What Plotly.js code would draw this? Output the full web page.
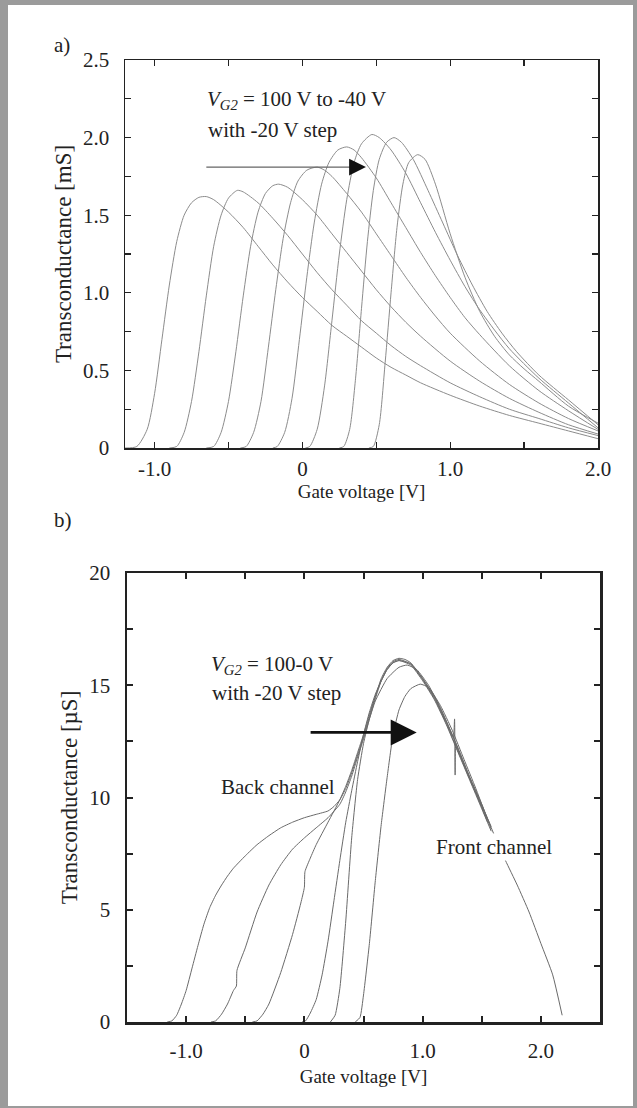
<!DOCTYPE html>
<html>
<head>
<meta charset="utf-8">
<script src="https://cdn.plot.ly/plotly-3.0.1.min.js"></script>
<style>
  html, body { margin: 0; padding: 0; background: #ffffff; }
  #chart { width: 637px; height: 1108px; }
</style>
</head>
<body>
<div id="chart"></div>
<script>
// ---------- Panel a) : transconductance [mS], VG2 = 100 V ... -40 V ----------
const a_names = ["100 V", "80 V", "60 V", "40 V", "20 V", "0 V", "-20 V", "-40 V"];

const a_x1 = [-1.2, -1.12, -1.05, -1.0, -0.95, -0.9, -0.85, -0.8, -0.75, -0.7, -0.65, -0.6, -0.5, -0.4, -0.3, -0.2, -0.1, 0, 0.1, 0.2, 0.3, 0.4, 0.5, 0.6, 0.7, 0.8, 1.0, 1.2, 1.4, 1.6, 1.8, 2.0];
const a_y1 = [0, 0.01, 0.12, 0.35, 0.7, 1.05, 1.33, 1.5, 1.58, 1.615, 1.62, 1.6, 1.52, 1.42, 1.3, 1.18, 1.07, 0.97, 0.88, 0.79, 0.72, 0.65, 0.58, 0.52, 0.47, 0.42, 0.34, 0.27, 0.21, 0.16, 0.11, 0.06];

const a_x2 = [-0.9, -0.85, -0.8, -0.75, -0.7, -0.65, -0.6, -0.55, -0.5, -0.44, -0.4, -0.3, -0.2, -0.1, 0, 0.1, 0.2, 0.3, 0.4, 0.5, 0.6, 0.7, 0.8, 1.0, 1.2, 1.4, 1.6, 1.8, 2.0];
const a_y2 = [0, 0.01, 0.1, 0.3, 0.62, 0.98, 1.3, 1.5, 1.61, 1.66, 1.65, 1.58, 1.48, 1.37, 1.25, 1.13, 1.02, 0.92, 0.82, 0.74, 0.66, 0.59, 0.53, 0.42, 0.33, 0.25, 0.19, 0.13, 0.08];

const a_x3 = [-0.65, -0.6, -0.55, -0.5, -0.45, -0.4, -0.35, -0.3, -0.25, -0.2, -0.16, -0.1, 0, 0.1, 0.2, 0.3, 0.4, 0.5, 0.6, 0.7, 0.8, 1.0, 1.2, 1.4, 1.6, 1.8, 2.0];
const a_y3 = [0, 0.01, 0.1, 0.3, 0.62, 0.98, 1.3, 1.52, 1.64, 1.69, 1.70, 1.68, 1.6, 1.5, 1.38, 1.26, 1.14, 1.02, 0.91, 0.81, 0.72, 0.56, 0.43, 0.32, 0.23, 0.15, 0.09];

const a_x4 = [-0.42, -0.38, -0.33, -0.28, -0.23, -0.18, -0.13, -0.08, -0.03, 0.03, 0.1, 0.15, 0.2, 0.3, 0.4, 0.5, 0.6, 0.7, 0.8, 0.9, 1.0, 1.2, 1.4, 1.6, 1.8, 2.0];
const a_y4 = [0, 0.01, 0.1, 0.3, 0.65, 1.02, 1.35, 1.58, 1.72, 1.79, 1.81, 1.79, 1.75, 1.64, 1.52, 1.38, 1.24, 1.1, 0.97, 0.85, 0.74, 0.56, 0.41, 0.29, 0.19, 0.11];

const a_x5 = [-0.2, -0.17, -0.12, -0.07, -0.02, 0.03, 0.08, 0.13, 0.18, 0.24, 0.3, 0.35, 0.4, 0.5, 0.6, 0.7, 0.8, 0.9, 1.0, 1.1, 1.2, 1.4, 1.6, 1.8, 2.0];
const a_y5 = [0, 0.01, 0.1, 0.32, 0.7, 1.1, 1.45, 1.7, 1.84, 1.92, 1.94, 1.92, 1.87, 1.74, 1.58, 1.42, 1.26, 1.11, 0.97, 0.84, 0.73, 0.53, 0.37, 0.24, 0.12];

const a_x6 = [0.02, 0.05, 0.1, 0.15, 0.2, 0.25, 0.3, 0.35, 0.4, 0.47, 0.52, 0.6, 0.7, 0.8, 0.9, 1.0, 1.1, 1.2, 1.3, 1.4, 1.6, 1.8, 2.0];
const a_y6 = [0, 0.01, 0.12, 0.4, 0.82, 1.25, 1.6, 1.84, 1.96, 2.02, 2.0, 1.92, 1.77, 1.58, 1.39, 1.21, 1.04, 0.89, 0.76, 0.64, 0.45, 0.29, 0.13];

const a_x7 = [0.25, 0.28, 0.32, 0.36, 0.4, 0.44, 0.48, 0.52, 0.57, 0.62, 0.67, 0.75, 0.85, 0.95, 1.05, 1.15, 1.25, 1.35, 1.45, 1.6, 1.8, 2.0];
const a_y7 = [0, 0.01, 0.12, 0.45, 0.9, 1.33, 1.66, 1.86, 1.97, 2.0, 1.97, 1.86, 1.66, 1.45, 1.24, 1.05, 0.88, 0.74, 0.62, 0.47, 0.31, 0.15];

const a_x8 = [0.45, 0.48, 0.52, 0.56, 0.6, 0.64, 0.68, 0.72, 0.78, 0.83, 0.9, 1.0, 1.1, 1.2, 1.3, 1.4, 1.5, 1.6, 1.8, 2.0];
const a_y8 = [0, 0.01, 0.15, 0.55, 1.0, 1.42, 1.7, 1.84, 1.89, 1.86, 1.7, 1.38, 1.1, 0.88, 0.72, 0.6, 0.51, 0.43, 0.27, 0.16];

// ---------- Panel b) : transconductance [µS], VG2 = 100 V ... 0 V ----------
const b_names = ["100 V", "80 V", "60 V", "40 V", "20 V", "0 V"];

const b_x1 = [-1.16, -1.12, -1.08, -1.04, -1.0, -0.95, -0.9, -0.85, -0.8, -0.75, -0.7, -0.65, -0.6, -0.5, -0.4, -0.3, -0.2, -0.1, 0.0, 0.1, 0.2, 0.25, 0.3, 0.35, 0.4, 0.45, 0.5, 0.55, 0.6, 0.65, 0.7, 0.75, 0.8, 0.85, 0.9, 1.0, 1.1, 1.2, 1.3, 1.4, 1.5, 1.6, 1.7, 1.8, 1.9, 2.0, 2.1, 2.18];
const b_y1 = [0, 0.05, 0.3, 0.8, 1.4, 2.4, 3.4, 4.35, 5.1, 5.65, 6.1, 6.5, 6.85, 7.4, 7.9, 8.3, 8.65, 8.9, 9.1, 9.25, 9.4, 9.6, 9.9, 10.4, 11.1, 11.9, 12.7, 13.6, 14.5, 15.3, 15.8, 16.1, 16.2, 16.15, 16.0, 15.3, 14.5, 13.4, 12.2, 10.9, 9.7, 8.4, 7.2, 6.1, 4.9, 3.5, 2.1, 0.3];

const b_x2 = [-0.79, -0.75, -0.7, -0.65, -0.6, -0.575, -0.57, -0.5, -0.4, -0.3, -0.2, -0.1, 0.0, 0.1, 0.2, 0.3, 0.35, 0.4, 0.45, 0.5, 0.55, 0.6, 0.65, 0.7, 0.75, 0.8, 0.9, 1.0, 1.1, 1.2, 1.3, 1.4, 1.5, 1.58];
const b_y2 = [0, 0.05, 0.35, 0.8, 1.4, 1.6, 2.3, 3.3, 4.9, 6.1, 7.0, 7.7, 8.2, 8.65, 9.1, 9.7, 10.25, 10.95, 11.8, 12.6, 13.5, 14.4, 15.2, 15.75, 16.05, 16.15, 15.95, 15.25, 14.4, 13.3, 12.05, 10.8, 9.6, 8.6];

const b_x3 = [-0.44, -0.4, -0.35, -0.3, -0.2, -0.1, -0.03, 0.0, 0.005, 0.05, 0.1, 0.2, 0.3, 0.35, 0.4, 0.45, 0.5, 0.55, 0.6, 0.65, 0.7, 0.75, 0.8, 0.9, 1.0, 1.1, 1.2, 1.26, 1.27, 1.275, 1.28, 1.3, 1.4, 1.5, 1.58];
const b_y3 = [0, 0.05, 0.35, 0.8, 2.2, 3.9, 5.3, 6.0, 6.7, 7.3, 7.9, 8.9, 9.9, 10.5, 11.2, 12.0, 12.8, 13.7, 14.5, 15.2, 15.7, 16.0, 16.1, 15.95, 15.3, 14.45, 13.35, 12.7, 13.5, 11.0, 12.4, 12.1, 10.85, 9.65, 8.7];

const b_x4 = [-0.02, 0.01, 0.05, 0.1, 0.15, 0.2, 0.25, 0.3, 0.35, 0.4, 0.45, 0.5, 0.55, 0.6, 0.65, 0.7, 0.75, 0.8, 0.9, 1.0, 1.1, 1.2, 1.3, 1.4, 1.5, 1.58];
const b_y4 = [0, 0.05, 0.4, 1.0, 2.1, 3.6, 5.4, 7.2, 8.9, 10.3, 11.6, 12.8, 13.8, 14.6, 15.2, 15.7, 16.0, 16.1, 15.9, 15.2, 14.35, 13.25, 12.0, 10.75, 9.5, 8.5];

const b_x5 = [0.22, 0.26, 0.3, 0.35, 0.4, 0.45, 0.5, 0.55, 0.6, 0.7, 0.8, 0.87, 0.95, 1.05, 1.15, 1.25, 1.35, 1.45, 1.55];
const b_y5 = [0, 0.3, 1.5, 4.5, 8.2, 10.8, 12.4, 13.5, 14.3, 15.3, 15.8, 15.9, 15.7, 15.0, 14.0, 12.8, 11.5, 10.2, 8.9];

const b_x6 = [0.43, 0.47, 0.5, 0.55, 0.6, 0.65, 0.7, 0.75, 0.8, 0.85, 0.9, 0.98, 1.05, 1.15, 1.25, 1.35, 1.45, 1.55];
const b_y6 = [0, 0.2, 1.2, 3.5, 6.3, 8.8, 10.9, 12.8, 13.9, 14.5, 14.85, 15.05, 14.9, 14.1, 13.0, 11.7, 10.4, 9.0];

// ---------- tick labels ----------
const a_xtickvals = [-1, 0, 1, 2];
const a_xticktext = ["-1.0", "0", "1.0", "2.0"];
const a_ytickvals = [0, 0.5, 1, 1.5, 2, 2.5];
const a_yticktext = ["0", "0.5", "1.0", "1.5", "2.0", "2.5"];
const b_xtickvals = [-1, 0, 1, 2];
const b_xticktext = ["-1.0", "0", "1.0", "2.0"];
const b_ytickvals = [0, 5, 10, 15, 20];
const b_yticktext = ["0", "5", "10", "15", "20"];

// ---------- build traces ----------
const aX = [a_x1, a_x2, a_x3, a_x4, a_x5, a_x6, a_x7, a_x8];
const aY = [a_y1, a_y2, a_y3, a_y4, a_y5, a_y6, a_y7, a_y8];
const bX = [b_x1, b_x2, b_x3, b_x4, b_x5, b_x6];
const bY = [b_y1, b_y2, b_y3, b_y4, b_y5, b_y6];

const traces = [];
aX.forEach((xs, i) => traces.push({
  type: "scatter", mode: "lines", x: xs, y: aY[i], name: "VG2 = " + a_names[i],
  xaxis: "x", yaxis: "y", showlegend: false, hoverinfo: "x+y+name",
  line: { color: "#8c8c8c", width: 1, shape: "spline", smoothing: 0.7 }
}));
bX.forEach((xs, i) => traces.push({
  type: "scatter", mode: "lines", x: xs, y: bY[i], name: "VG2 = " + b_names[i],
  xaxis: "x2", yaxis: "y2", showlegend: false, hoverinfo: "x+y+name",
  line: { color: "#6a6a6a", width: 1, shape: "spline", smoothing: 0.5 }
}));

const FONT = "Liberation Serif, Times New Roman, serif";
const W = 637, H = 1108;
const TICK = 21, ANN = 21;

function axisCommon(lw) {
  return {
    showline: true, linecolor: "#222", linewidth: lw, mirror: "ticks",
    ticks: "inside", ticklen: 6, tickwidth: lw > 2 ? 2 : 1.3, tickcolor: "#222",
    showgrid: false, zeroline: false, tickmode: "array",
    tickfont: { family: FONT, size: TICK, color: "#222" }
  };
}

const layout = {
  width: W, height: H,
  margin: { l: 0, r: 0, t: 0, b: 0 },
  paper_bgcolor: "#ffffff", plot_bgcolor: "#ffffff",
  font: { family: FONT, size: TICK, color: "#222" },
  showlegend: false,
  xaxis: Object.assign(axisCommon(1.5), {
    domain: [125 / W, 598 / W], anchor: "y", range: [-1.2, 2.0],
    tickvals: a_xtickvals, ticktext: a_xticktext, ticklabelstandoff: 1,
    minor: { tickmode: "linear", tick0: 0, dtick: 0.5, ticks: "inside", ticklen: 6, tickwidth: 1.3, tickcolor: "#222" },
    title: { text: "Gate voltage [V]", font: { family: FONT, size: 19, color: "#222" }, standoff: 5 }
  }),
  yaxis: Object.assign(axisCommon(1.5), {
    domain: [1 - 448 / H, 1 - 60 / H], anchor: "x", range: [0, 2.5],
    tickvals: a_ytickvals, ticktext: a_yticktext, ticklabelstandoff: 10,
    minor: { tickmode: "linear", tick0: 0, dtick: 0.25, ticks: "inside", ticklen: 6, tickwidth: 1.3, tickcolor: "#222" },
    title: { text: "Transconductance [mS]", font: { family: FONT, size: 23, color: "#222" }, standoff: 5 }
  }),
  xaxis2: Object.assign(axisCommon(2.5), {
    domain: [127 / W, 600 / W], anchor: "y2", range: [-1.5, 2.5],
    tickvals: b_xtickvals, ticktext: b_xticktext, ticklabelstandoff: 8,
    minor: { tickmode: "linear", tick0: 0, dtick: 0.5, ticks: "inside", ticklen: 6, tickwidth: 2, tickcolor: "#222" },
    title: { text: "Gate voltage [V]", font: { family: FONT, size: 19, color: "#222" }, standoff: 8 }
  }),
  yaxis2: Object.assign(axisCommon(2.5), {
    domain: [1 - 1022 / H, 1 - 573 / H], anchor: "x2", range: [0, 20],
    tickvals: b_ytickvals, ticktext: b_yticktext, ticklabelstandoff: 10,
    minor: { tickmode: "linear", tick0: 0, dtick: 2.5, ticks: "inside", ticklen: 6, tickwidth: 2, tickcolor: "#222" },
    title: { text: "Transconductance [µS]", font: { family: FONT, size: 23, color: "#222" }, standoff: 5 }
  }),
  annotations: [
    { xref: "paper", yref: "paper", x: 52 / W, y: 1 - 45 / H, xanchor: "left", yanchor: "middle",
      text: "a)", showarrow: false, font: { family: FONT, size: ANN, color: "#222" } },
    { xref: "paper", yref: "paper", x: 52 / W, y: 1 - 520 / H, xanchor: "left", yanchor: "middle",
      text: "b)", showarrow: false, font: { family: FONT, size: ANN, color: "#222" } },
    // panel a text
    { xref: "x", yref: "y", x: -0.66, y: 2.24, xanchor: "left", yanchor: "middle", showarrow: false,
      text: "<i>V</i><sub><i>G2</i></sub> = 100 V to -40 V", font: { family: FONT, size: ANN, color: "#222" } },
    { xref: "x", yref: "y", x: -0.65, y: 2.05, xanchor: "left", yanchor: "middle", showarrow: false,
      text: "with -20 V step", font: { family: FONT, size: ANN, color: "#222" } },
    // panel a arrow: grey shaft + black head
    { xref: "x", yref: "y", axref: "x", ayref: "y", x: 0.37, y: 1.81, ax: -0.66, ay: 1.81,
      showarrow: true, arrowhead: 0, arrowwidth: 1.4, arrowcolor: "#666", text: "" },
    { xref: "x", yref: "y", axref: "x", ayref: "y", x: 0.43, y: 1.81, ax: 0.33, ay: 1.81,
      showarrow: true, arrowhead: 2, arrowsize: 2.4, arrowwidth: 1.4, arrowcolor: "#111", text: "" },
    // panel b texts
    { xref: "x2", yref: "y2", x: -0.81, y: 15.9, xanchor: "left", yanchor: "middle", showarrow: false,
      text: "<i>V</i><sub><i>G2</i></sub> = 100-0 V", font: { family: FONT, size: ANN, color: "#222" } },
    { xref: "x2", yref: "y2", x: -0.8, y: 14.65, xanchor: "left", yanchor: "middle", showarrow: false,
      text: "with -20 V step", font: { family: FONT, size: ANN, color: "#222" } },
    { xref: "x2", yref: "y2", x: -0.72, y: 10.45, xanchor: "left", yanchor: "middle", showarrow: false,
      text: "Back channel", font: { family: FONT, size: ANN, color: "#222" } },
    { xref: "x2", yref: "y2", x: 1.1, y: 7.8, xanchor: "left", yanchor: "middle", showarrow: false,
      bgcolor: "#ffffff",
      text: "Front channel", font: { family: FONT, size: ANN, color: "#222" } },
    // panel b arrow
    { xref: "x2", yref: "y2", axref: "x2", ayref: "y2", x: 0.95, y: 12.9, ax: 0.04, ay: 12.9,
      showarrow: true, arrowhead: 2, arrowsize: 2.0, arrowwidth: 2.6, arrowcolor: "#111", text: "" }
  ],
  shapes: [
    // grey page frame
    { type: "rect", xref: "paper", yref: "paper", x0: 0, x1: 8 / W, y0: 0, y1: 1, fillcolor: "#9b9b9b", line: { width: 0 }, layer: "above" },
    { type: "rect", xref: "paper", yref: "paper", x0: 0, x1: 1, y0: 1 - 5 / H, y1: 1, fillcolor: "#9b9b9b", line: { width: 0 }, layer: "above" },
    { type: "rect", xref: "paper", yref: "paper", x0: 1 - 4 / W, x1: 1, y0: 0, y1: 1, fillcolor: "#9b9b9b", line: { width: 0 }, layer: "above" },
    { type: "rect", xref: "paper", yref: "paper", x0: 0, x1: 1, y0: 0, y1: 2 / H, fillcolor: "#9b9b9b", line: { width: 0 }, layer: "above" }
  ]
};

Plotly.newPlot("chart", traces, layout, { displayModeBar: false, staticPlot: true });
</script>
</body>
</html>
